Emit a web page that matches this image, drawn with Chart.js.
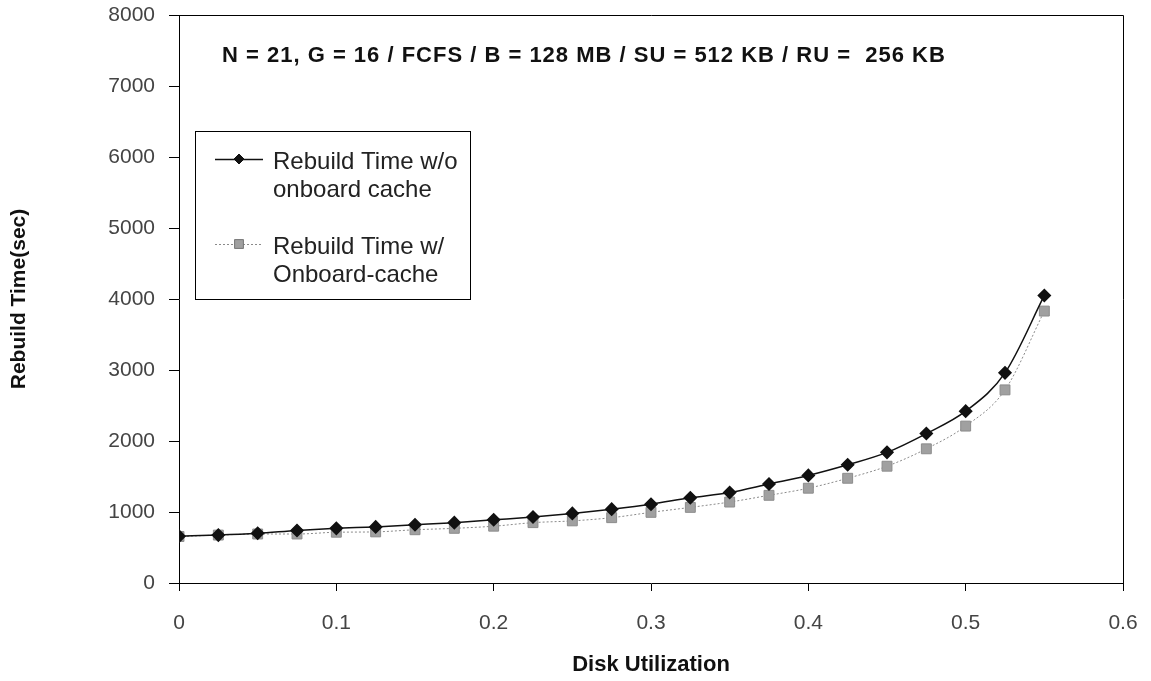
<!DOCTYPE html>
<html>
<head>
<meta charset="utf-8">
<script src="https://cdn.jsdelivr.net/npm/chart.js@4.4.1/dist/chart.umd.min.js"></script>
<style>
  html, body { margin: 0; padding: 0; background: #fff; }
  #wrap { width: 1151px; height: 681px; position: relative; }
</style>
</head>
<body>
<div id="wrap"><canvas id="chart" width="1151" height="681"></canvas></div>
<script>
// disk utilization (x) and rebuild times
const utilization = [0, 0.025, 0.05, 0.075, 0.1, 0.125, 0.15, 0.175, 0.2, 0.225, 0.25, 0.275,
  0.3, 0.325, 0.35, 0.375, 0.4, 0.425, 0.45, 0.475, 0.5, 0.525, 0.55];
const rebuildNoCache = [660, 675, 700, 740, 770, 790, 820, 850, 890, 930, 980, 1040,
  1110, 1200, 1275, 1395, 1515, 1665, 1840, 2105, 2420, 2960, 4050];
const rebuildWithCache = [655, 675, 690, 690, 715, 720, 750, 770, 800, 850, 875, 920,
  995, 1065, 1140, 1235, 1335, 1475, 1645, 1890, 2210, 2720, 3830];
const legendLabels = [['Rebuild Time w/o', 'onboard cache'], ['Rebuild Time w/', 'Onboard-cache']];
const noteText = 'N = 21, G = 16 / FCFS / B = 128 MB / SU = 512 KB / RU =  256 KB';

const xTicks = [0, 0.1, 0.2, 0.3, 0.4, 0.5, 0.6];

const tickFont = { family: '"Liberation Sans", Arial, sans-serif', size: 21 };

function toPoints(xs, ys) {
  return xs.map((x, i) => ({ x, y: ys[i] }));
}

// box around the plot, the note line and the framed legend
const decorations = {
  id: 'decorations',
  afterDraw(chart) {
    const { ctx, chartArea: a } = chart;
    ctx.save();
    ctx.strokeStyle = '#000';
    ctx.lineWidth = 1;
    ctx.beginPath();
    ctx.moveTo(a.left, a.top + 0.5);
    ctx.lineTo(a.right + 0.5, a.top + 0.5);
    ctx.lineTo(a.right + 0.5, a.bottom);
    ctx.stroke();

    ctx.fillStyle = '#111';
    ctx.font = 'bold 22px "Liberation Sans", Arial, sans-serif';
    ctx.letterSpacing = '1px';
    ctx.textBaseline = 'middle';
    ctx.textAlign = 'left';
    ctx.fillText(noteText, a.left + 43, 56);
    ctx.letterSpacing = '0px';

    // legend
    const lx = a.left + 16, ly = 131, lw = 275, lh = 168;
    ctx.fillStyle = '#fff';
    ctx.fillRect(lx, ly, lw, lh);
    ctx.strokeStyle = '#000';
    ctx.strokeRect(lx + 0.5, ly + 0.5, lw, lh);

    const ds = chart.data.datasets;
    const rows = [159, 244];
    ctx.font = '24px "Liberation Sans", Arial, sans-serif';
    rows.forEach((yy, i) => {
      const d = ds[i];
      ctx.save();
      ctx.strokeStyle = d.borderColor;
      ctx.lineWidth = d.borderWidth;
      ctx.setLineDash(d.borderDash || []);
      ctx.beginPath();
      ctx.moveTo(lx + 20, yy + 0.5);
      ctx.lineTo(lx + 68, yy + 0.5);
      ctx.stroke();
      ctx.restore();
      Chart.helpers.drawPoint(ctx, {
        pointStyle: d.pointStyle, radius: d.pointRadius - 1, borderWidth: 1, rotation: 0
      }, lx + 44, yy);
      ctx.fillStyle = d.pointBackgroundColor;
      ctx.strokeStyle = d.pointBorderColor;
      ctx.fill();
      ctx.stroke();
      ctx.fillStyle = '#222';
      ctx.textBaseline = 'middle';
      ctx.fillText(legendLabels[i][0], lx + 78, yy + 3);
      ctx.fillText(legendLabels[i][1], lx + 78, yy + 31);
    });
    ctx.restore();
  }
};

new Chart(document.getElementById('chart'), {
  type: 'line',
  data: {
    datasets: [
      {
        label: legendLabels[0].join(' '),
        data: toPoints(utilization, rebuildNoCache),
        borderColor: '#111',
        borderWidth: 1.5,
        pointStyle: 'rectRot',
        pointRadius: 6,
        pointBackgroundColor: '#111',
        pointBorderColor: '#111',
        cubicInterpolationMode: 'monotone',
      },
      {
        label: legendLabels[1].join(' '),
        data: toPoints(utilization, rebuildWithCache),
        borderColor: '#8a8a8a',
        borderWidth: 1,
        borderDash: [2, 2],
        pointStyle: 'rect',
        pointRadius: 7,
        pointBackgroundColor: '#a0a0a0',
        pointBorderColor: '#8c8c8c',
        cubicInterpolationMode: 'monotone',
      },
    ],
  },
  options: {
    responsive: false,
    animation: false,
    layout: { padding: { left: 0, top: 15, right: 28, bottom: 0 } },
    plugins: { legend: { display: false }, tooltip: { enabled: false } },
    scales: {
      x: {
        type: 'linear',
        min: 0,
        max: 0.6,
        afterFit: s => { s.height = 98; s.paddingLeft = 0; s.paddingRight = 0; },
        afterBuildTicks: s => { s.ticks = xTicks.map(v => ({ value: v })); },
        grid: { drawOnChartArea: false, drawTicks: true, tickLength: 8, color: '#000' },
        border: { display: true, color: '#000', width: 1 },
        ticks: { color: '#444', font: tickFont, padding: 20, callback: v => String(v) },
        title: {
          display: true, text: 'Disk Utilization', color: '#111',
          font: { family: '"Liberation Sans", Arial, sans-serif', size: 22, weight: 'bold' },
          padding: { top: 0, bottom: 3 }
        },
      },
      y: {
        min: 0,
        max: 8000,
        afterFit: s => { s.width = 179; s.paddingTop = 0; s.paddingBottom = 0; },
        grid: { drawOnChartArea: false, drawTicks: true, tickLength: 10, color: '#000' },
        border: { display: true, color: '#000', width: 1 },
        ticks: { color: '#444', font: tickFont, padding: 14, stepSize: 1000, callback: v => String(v) },
        title: {
          display: true, text: 'Rebuild Time(sec)', color: '#111',
          font: { family: '"Liberation Sans", Arial, sans-serif', size: 21, weight: 'bold' },
          padding: { top: 7, bottom: 0 }
        },
      },
    },
  },
  plugins: [decorations],
});
</script>
</body>
</html>
